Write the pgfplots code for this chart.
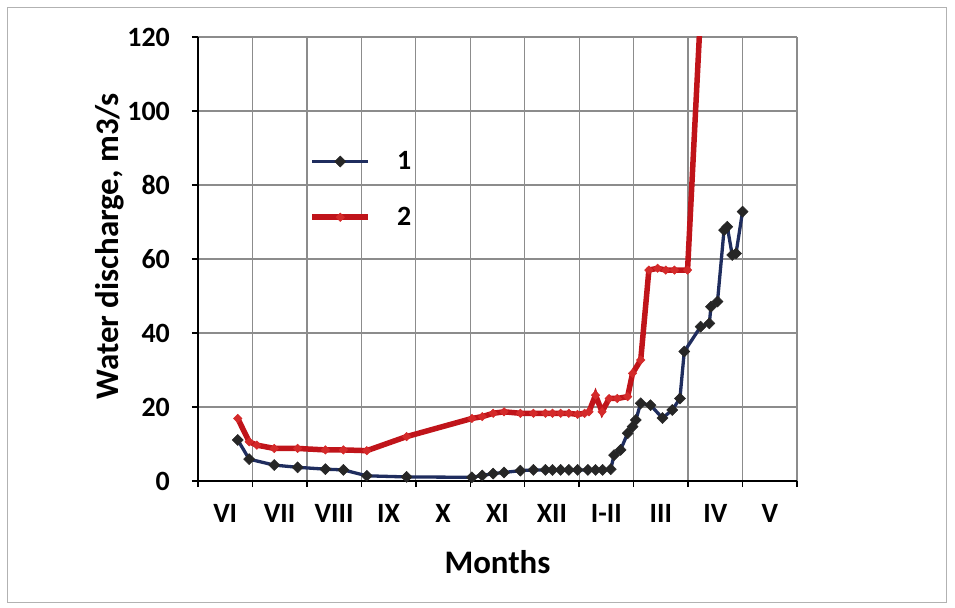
\documentclass[border=0pt]{standalone}
\usepackage{pgfplots}
\pgfplotsset{compat=1.18}
\usepackage{fontspec}
\setmainfont{Carlito}
\definecolor{navy}{HTML}{1F2D5E}
\definecolor{dred}{HTML}{C0141A}
\definecolor{mred}{HTML}{D42A2A}
\definecolor{gridc}{HTML}{8C8C8C}
\begin{document}
\begin{tikzpicture}
\useasboundingbox (-198bp,-127bp) rectangle (757bp,481bp);
\draw[gray!60, line width=1bp] (-190bp,-121bp) rectangle (748bp,473bp);
\begin{axis}[
  at={(0,0)}, anchor=south west,
  scale only axis, width=599bp, height=444bp,
  xmin=0, xmax=11, ymin=0, ymax=120,
  axis lines=left, axis line style={-, black, line width=2.2bp},
  xtick={0,...,11}, ytick={0,20,...,120},
  x tick label as interval,
  xticklabels={VI,VII,VIII,IX,X,XI,XII,I-II,III,IV,V},
  grid=major, major grid style={gridc, line width=1.2bp},
  tick align=outside, major tick length=6bp,
  tick style={black, line width=1.5bp},
  /pgf/number format/assume math mode=true,
  ticklabel style={font=\bfseries\fontsize{28}{30}\selectfont},
  yticklabel style={inner sep=0pt, xshift=-22bp},
  xticklabel style={inner sep=0pt, yshift=-17bp},
  xlabel={Months}, ylabel={Water discharge, m3/s},
  label style={font=\bfseries\fontsize{33}{36}\selectfont},
  xlabel style={at={(axis description cs:0.5,0)}, anchor=center, yshift=-81bp},
  ylabel style={at={(axis description cs:-0.148,0.529)}, anchor=center, rotate=0},
  legend style={at={(axis cs:3.0,78.8)}, anchor=center, draw=none, fill=none,
    font=\bfseries\fontsize{28}{30}\selectfont, row sep=32bp, column sep=24bp},
  legend image code/.code={\draw[mark repeat=2,mark phase=2,#1] plot coordinates {(0bp,0bp) (28bp,0bp) (56bp,0bp)};},
  reverse legend,
]
\addplot[dred, line width=5.5bp, mark=square*, mark size=3.0bp,
  mark options={rotate=45, fill=mred, draw=mred, line width=0.5bp}] coordinates {
(0.73,16.9) (0.94,10.6) (1.08,9.7) (1.40,8.8) (1.83,8.8) (2.34,8.4) (2.67,8.4)
(3.10,8.2) (3.83,12.0) (5.03,16.9) (5.22,17.4) (5.42,18.3) (5.62,18.7) (5.92,18.3)
(6.16,18.3) (6.38,18.3) (6.51,18.3) (6.66,18.3) (6.81,18.3) (6.97,18.0) (7.10,18.3)
(7.18,18.7) (7.30,23.2) (7.42,18.7) (7.55,22.3) (7.70,22.3) (7.89,22.8) (7.98,29.1)
(8.13,32.7) (8.28,57.0) (8.44,57.5) (8.59,57.0) (8.75,57.0) (8.99,57.0) (9.24,130)
};
\addlegendentry{2}
\addplot[navy, line width=3.3bp, mark=square*, mark size=3.9bp,
  mark options={rotate=45, fill=black!85, draw=black!85, line width=0.5bp}] coordinates {
(0.73,11.1) (0.94,5.9) (1.40,4.3) (1.83,3.7) (2.34,3.2) (2.67,3.0) (3.10,1.4)
(3.83,1.1) (5.03,1.0) (5.22,1.5) (5.42,2.0) (5.62,2.3) (5.92,2.8) (6.16,3.0)
(6.38,3.0) (6.51,3.0) (6.66,3.0) (6.81,3.0) (6.97,3.0) (7.16,3.0) (7.30,3.0)
(7.43,3.0) (7.58,3.2) (7.64,7.0) (7.76,8.4) (7.89,12.9) (7.98,14.7) (8.04,16.5)
(8.13,21.0) (8.31,20.5) (8.53,17.0) (8.71,19.2) (8.85,22.3) (8.93,35.0) (9.23,41.7)
(9.39,42.6) (9.42,47.1) (9.54,48.5) (9.66,67.8) (9.72,68.7) (9.81,61.1) (9.88,61.5)
(10.00,72.8)
};
\addlegendentry{1}
\end{axis}
\end{tikzpicture}
\end{document}
